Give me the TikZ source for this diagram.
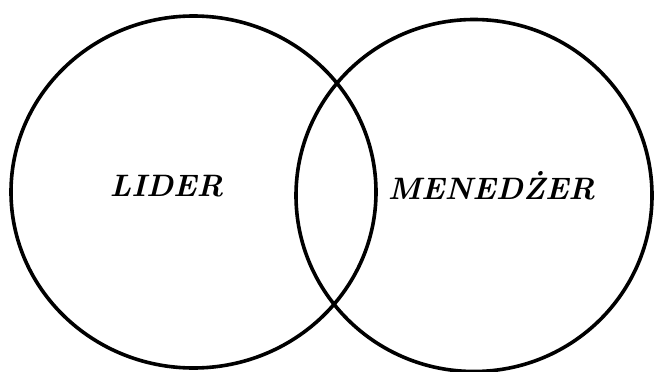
\documentclass[tikz,border=0pt]{standalone}
\usepackage{fontspec}
\begin{document}
\begin{tikzpicture}[x=1pt,y=-1pt,
  ring/.style={line width=3.6pt, draw=black},
  lbl/.style={font=\fontsize{31}{31}\selectfont\bfseries\itshape, inner sep=0pt, anchor=center}]
\useasboundingbox (0,0) rectangle (656,372);
\draw[ring] (193.5,192) ellipse [x radius=182.5, y radius=176];
\draw[ring] (474,195.5) ellipse [x radius=178, y radius=176];
\node[lbl] (lider) at (166.5,186) {LIDER};
\node[lbl] (men) at (491.5,186) {MENEDŻER};
\end{tikzpicture}
\end{document}
